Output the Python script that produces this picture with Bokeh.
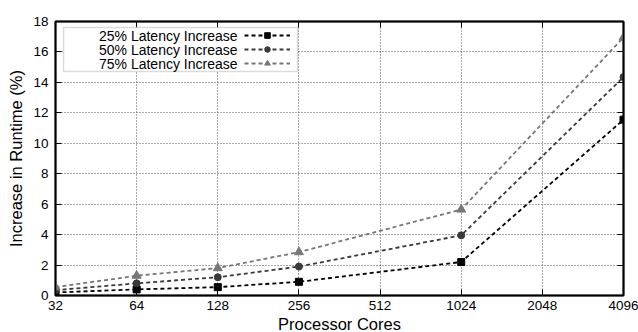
from bokeh.plotting import figure
from bokeh.models import (FixedTicker, Legend, LegendItem, CustomJSTickFormatter, Label,
                          BoxAnnotation, LinearAxis, LogAxis)
from bokeh.embed import file_html
from bokeh.resources import INLINE

cores = [32, 64, 128, 256, 1024, 4096]
lat25 = [0.2, 0.4, 0.55, 0.9, 2.2, 11.55]
lat50 = [0.35, 0.8, 1.2, 1.9, 3.95, 14.35]
lat75 = [0.55, 1.3, 1.8, 2.85, 5.65, 16.95]
x_ticks = [32, 64, 128, 256, 512, 1024, 2048, 4096]
y_ticks = [0, 2, 4, 6, 8, 10, 12, 14, 16, 18]
names = ["25% Latency Increase", "50% Latency Increase", "75% Latency Increase"]

FONT = "Liberation Sans"
FW, FH = 568, 274

p = figure(frame_width=FW, frame_height=FH, output_backend="svg", toolbar_location=None,
           x_axis_type="log", x_range=(32, 4096), y_range=(0, 18),
           min_border_left=55, min_border_right=15, min_border_top=21, min_border_bottom=37,
           x_axis_label="Processor Cores", y_axis_label="Increase in Runtime (%)")
p.outline_line_color = "black"
p.outline_line_width = 2
p.outline_line_alpha = 1

fmt = CustomJSTickFormatter(code="return tick.toFixed(0);")
for ax in [p.xaxis[0], p.yaxis[0]]:
    ax.major_tick_in = 6
    ax.major_tick_out = 0
    ax.minor_tick_in = 0
    ax.minor_tick_out = 0
    ax.axis_line_color = "black"
    ax.axis_line_width = 1.5
    ax.major_label_text_font = FONT
    ax.major_label_text_font_size = "13.5px"
    ax.major_label_text_color = "black"
    ax.major_label_text_line_height = 1.0
    ax.axis_label_text_font = FONT
    ax.axis_label_text_font_size = "16.5px"
    ax.axis_label_text_font_style = "normal"
    ax.axis_label_text_color = "black"
    ax.axis_label_text_line_height = 1.0
p.xaxis[0].ticker = FixedTicker(ticks=x_ticks)
p.xaxis[0].formatter = fmt
p.xaxis[0].major_label_standoff = 5
p.xaxis[0].axis_label_standoff = 2
p.yaxis[0].ticker = FixedTicker(ticks=y_ticks)
p.yaxis[0].major_label_standoff = 7
p.yaxis[0].axis_label_standoff = 5

# mirrored inward ticks on top and right (no labels)
blank = CustomJSTickFormatter(code="return '';")
top = LogAxis(ticker=FixedTicker(ticks=x_ticks), formatter=blank,
              major_tick_in=6, major_tick_out=0, minor_tick_in=0, minor_tick_out=0,
              major_label_standoff=0, axis_line_color="black", axis_line_width=1.5)
right = LinearAxis(ticker=FixedTicker(ticks=y_ticks), formatter=blank,
                   major_tick_in=6, major_tick_out=0, minor_tick_in=0, minor_tick_out=0,
                   major_label_standoff=0, axis_line_color="black", axis_line_width=1.5)
p.add_layout(top, "above")
p.add_layout(right, "right")

for g in [p.xgrid[0], p.ygrid[0]]:
    g.grid_line_color = "#555555"
    g.grid_line_dash = "1 2"
    g.grid_line_width = 1
p.xgrid[0].ticker = FixedTicker(ticks=x_ticks)
p.ygrid[0].ticker = FixedTicker(ticks=y_ticks)

colors = ["#000000", "#3a3a3a", "#777777"]
markers = ["square", "circle", "triangle"]
series = [lat25, lat50, lat75]
items = []
for name, ys, c, m in zip(names, series, colors, markers):
    l = p.line(cores, ys, line_color=c, line_width=1.8, line_dash="4 3")
    s = p.scatter(cores, ys, marker=m, size=7 if m != "triangle" else 9,
                  fill_color=c, line_color=c)
    items.append(LegendItem(label="", renderers=[l, s]))

# gnuplot-style key: box, right-aligned labels, samples on the right
box = BoxAnnotation(left=8, right=242, top=FH - 6, bottom=FH - 50,
                    left_units="screen", right_units="screen",
                    top_units="screen", bottom_units="screen",
                    fill_color="white", fill_alpha=1,
                    line_color="#888888", line_width=1.5)
p.add_layout(box)
row_h = 14
for i, name in enumerate(names):
    lab = Label(x=182, y=FH - 14 - i * row_h, x_units="screen", y_units="screen",
                text=name, text_align="right", text_baseline="middle",
                text_font=FONT, text_font_size="14px", text_color="black")
    p.add_layout(lab)

leg = Legend(items=items, location=(189, FH - 7 - 3 * row_h))
leg.label_text_font_size = "6px"
leg.label_height = row_h
leg.glyph_height = row_h
leg.glyph_width = 46
leg.spacing = 0
leg.padding = 0
leg.margin = 0
leg.label_standoff = 0
leg.label_width = 0
leg.border_line_color = None
leg.background_fill_alpha = 0
p.add_layout(leg)

open("out.html", "w").write(file_html(p, INLINE))
